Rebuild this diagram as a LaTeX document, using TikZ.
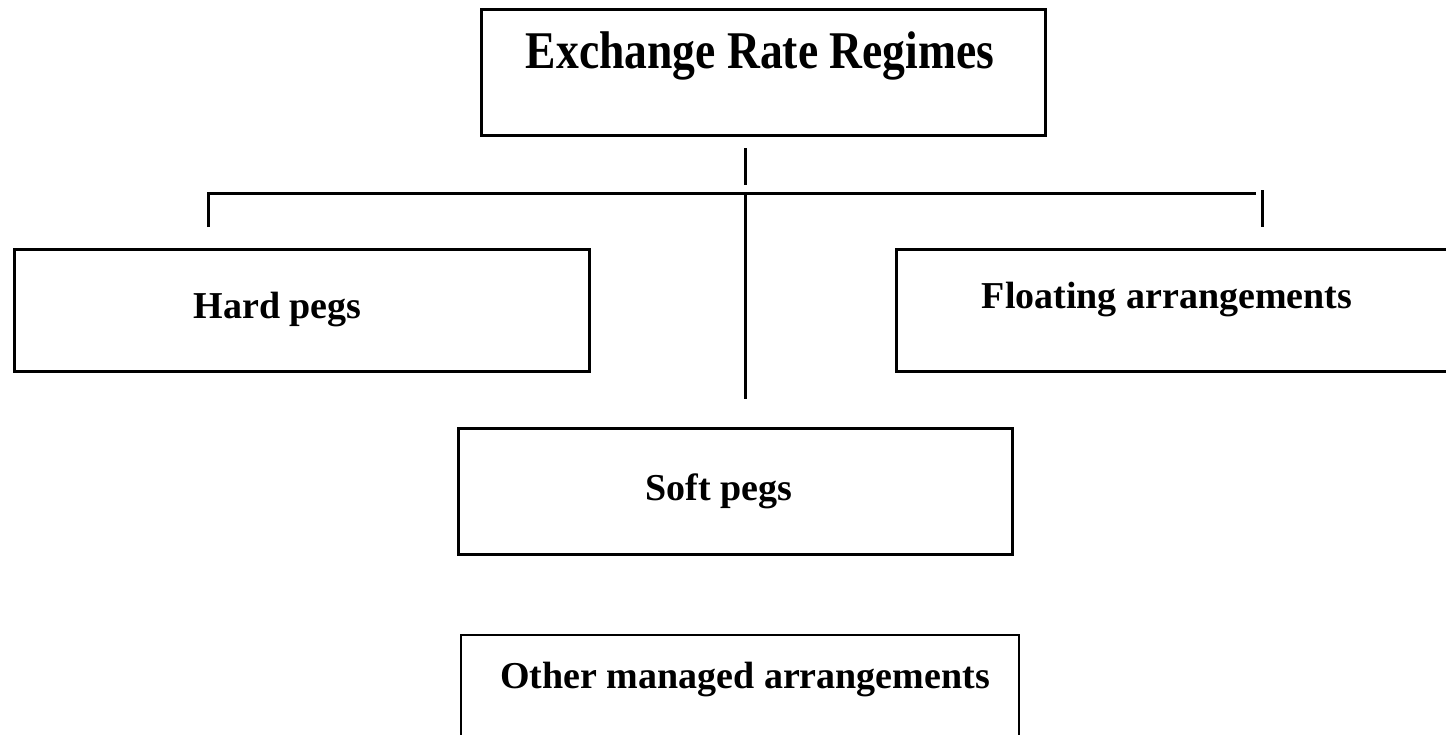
\documentclass[tikz,border=0pt]{standalone}
\usepackage{fontspec}
\usepackage{graphicx}
\setmainfont{Liberation Serif}
\usepackage{tikz}

\begin{document}
\begin{tikzpicture}[
        x=0.5pt, y=-0.5pt,
        regime/.style={draw, rectangle, line width=1.5pt, inner sep=0pt,
            font=\bfseries\fontsize{19}{22}\selectfont},
        link/.style={draw, line width=1.5pt}
        ]
        \useasboundingbox (0,0) rectangle (1446,734);

        % Root box
        \node[regime, minimum width=282pt, text height=29.5pt, text depth=33.5pt,
              font=\bfseries\fontsize{26.5}{30}\selectfont] (regimes) at (763,72)
            {\scalebox{0.86}[1]{Exchange Rate Regimes}\hspace*{3pt}};

        % Second row
        \node[regime, minimum width=287.5pt, text height=34.5pt, text depth=26.5pt] (hard) at (301.5,310) {Hard pegs\hspace*{24pt}};
        \node[regime, minimum width=287pt, text height=29.5pt, text depth=31.5pt] (floating) at (1183,310) {Floating arrangements\hspace*{16pt}};

        % Middle column
        \node[regime, minimum width=277pt, text height=36pt, text depth=27pt] (soft) at (735,491) {Soft pegs\hspace*{16pt}};
        \node[regime, line width=1pt, minimum width=279pt, text height=26.5pt, text depth=36pt] (other) at (740,697.5) {\hspace*{5pt}Other managed arrangements};

        % Connector ends
        \coordinate (stem top) at (745,148);
        \coordinate (stem end) at (745,185);
        \coordinate (hub) at (745,193);
        \coordinate (bar left) at (208,193);
        \coordinate (bar right) at (1256,193);
        \coordinate (drop left) at (208,227);
        \coordinate (drop right top) at (1262,190);
        \coordinate (drop right) at (1262,227);
        \coordinate (trunk end) at (745,399);

        \draw[link] (stem top) -- (stem end);
        \draw[link] (drop left) -- (bar left) -- (bar right);
        \draw[link] (drop right top) -- (drop right);
        \draw[link] (hub) -- (trunk end);
    \end{tikzpicture}
\end{document}
